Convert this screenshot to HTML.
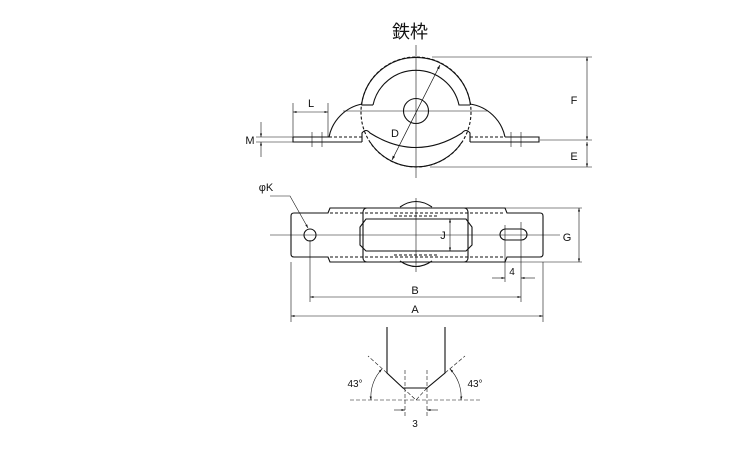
<!DOCTYPE html>
<html><head><style>body{margin:0;background:#fff}svg{display:block}text{font-family:"Liberation Sans","Noto Sans CJK JP",sans-serif;fill:#111}</style></head><body>
<svg width="750" height="450" viewBox="0 0 750 450" xmlns="http://www.w3.org/2000/svg">
<defs><marker id="a" viewBox="0 0 10 10" refX="10" refY="5" markerWidth="6" markerHeight="6" orient="auto-start-reverse"><path d="M0,2 L10,5 L0,8z" fill="#111"/></marker></defs>
<text x="410" y="38" font-size="18" text-anchor="middle">鉄枠</text>
<g stroke="#111" fill="none" stroke-width="1.1">
<!-- top view -->
<line x1="416" y1="45" x2="416" y2="178" stroke-width="0.6"/>
<line x1="343" y1="111" x2="488" y2="111" stroke-width="0.6"/>
<circle cx="416" cy="112" r="55" stroke-dasharray="3,2"/>
<path d="M361.5,105 A55,55 0 0 1 470.5,105"/>
<path d="M370,142 A55,55 0 0 0 462,142"/>
<circle cx="416" cy="111" r="12.5"/>
<path d="M373,105 A44,44 0 0 1 459,105 L470,105"/>
<path d="M361.5,105 L373,105"/>
<path d="M329,137 A42,42 0 0 1 362,104"/>
<path d="M505,137 A42,42 0 0 0 470,104"/>
<path d="M362,142 L362,133 Q366,128 370,133 Q416,162 462,133 Q466,128 470,133 L470,142"/>
<path d="M293,137 L329,137 M505,137 L539,137 L539,142 L470,142 M293,137 L293,142 L362,142" />
<path d="M329,137 L362,137 M470,137 L505,137" stroke-dasharray="3,2"/>
<path d="M312,132 L312,147 M322,132 L322,147 M511,132 L511,147 M521,132 L521,147" stroke-width="0.6"/>
<line x1="440" y1="65" x2="392" y2="160" stroke-width="0.7" marker-start="url(#a)" marker-end="url(#a)"/>
<g stroke-width="0.6">
<path d="M293,103 L293,137 M328,103 L328,137"/>
<line x1="293" y1="112" x2="328" y2="112" marker-start="url(#a)" marker-end="url(#a)"/>
<path d="M256,137 L293,137 M256,142 L293,142"/>
<line x1="261" y1="122" x2="261" y2="137" marker-end="url(#a)"/>
<line x1="261" y1="157" x2="261" y2="142" marker-end="url(#a)"/>
<path d="M432,57 L592,57 M540,140 L592,140 M430,167 L592,167"/>
<line x1="587" y1="57" x2="587" y2="140" marker-start="url(#a)" marker-end="url(#a)"/>
<line x1="587" y1="142" x2="587" y2="167" marker-start="url(#a)" marker-end="url(#a)"/>
</g>
<!-- plan view -->
<line x1="270" y1="235" x2="560" y2="235" stroke-width="0.6"/>
<line x1="416" y1="198" x2="416" y2="272" stroke-width="0.6"/>
<path d="M400,207 Q416,196 432,207 M400,261 Q416,272 432,261"/>
<path d="M328,213 L294,213 Q291,213 291,216 L291,254 Q291,257 294,257 L328,257 L330,262 L505,262 L507,257 L540,257 Q543,257 543,254 L543,216 Q543,213 540,213 L507,213 L505,208 L330,208 Z"/>
<path d="M330,213 L505,213 M330,257 L505,257" stroke-dasharray="3,2"/>
<rect x="363" y="208" width="105" height="54" rx="4"/>
<path d="M366,219 L466,219 L472,227 L472,245 L466,251 L366,251 L360,245 L360,227 Z"/>
<path d="M394,216 L438,216 M394,255 L438,255" stroke-dasharray="3,2"/>
<circle cx="310" cy="235" r="6"/>
<rect x="500" y="229" width="27" height="11" rx="5.5"/>
<g stroke-width="0.6">
<line x1="450" y1="219" x2="450" y2="251" marker-start="url(#a)" marker-end="url(#a)"/>
<path d="M291,262 L291,322 M310,240 L310,302 M521,222 L521,302 M543,262 L543,322 M505,225 L505,282 M470,208 L582,208 M470,262 L582,262"/>
<line x1="579" y1="208" x2="579" y2="262" marker-start="url(#a)" marker-end="url(#a)"/>
<line x1="492" y1="278" x2="505" y2="278" marker-end="url(#a)"/>
<line x1="535" y1="278" x2="521" y2="278" marker-end="url(#a)"/>
<line x1="310" y1="297" x2="521" y2="297" marker-start="url(#a)" marker-end="url(#a)"/>
<line x1="291" y1="316" x2="543" y2="316" marker-start="url(#a)" marker-end="url(#a)"/>
<path d="M270,196 L290,196 L308,228" marker-end="url(#a)"/>
</g>
<!-- detail -->
<path d="M387,327 L387,373 L403,388 L427,388 L445,373 L445,327"/>
<g stroke-width="0.6" stroke-dasharray="4,2">
<path d="M350,400 L482,400 M405,370 L405,418 M427,370 L427,418 M403,388 L416,400 L427,388 M387,373 L368,356 M445,373 L465,356"/>
</g>
<g stroke-width="0.6">
<path d="M371,400 A40,40 0 0 1 382,369" marker-start="url(#a)" marker-end="url(#a)"/>
<path d="M461,400 A40,40 0 0 0 450,369" marker-start="url(#a)" marker-end="url(#a)"/>
<line x1="394" y1="410" x2="405" y2="410" marker-end="url(#a)"/>
<line x1="438" y1="410" x2="427" y2="410" marker-end="url(#a)"/>
</g>
</g>
<g font-size="11">
<text x="311" y="107" text-anchor="middle">L</text>
<text x="250" y="144" text-anchor="middle">M</text>
<text x="395" y="137" text-anchor="middle">D</text>
<text x="574" y="104" text-anchor="middle">F</text>
<text x="574" y="160" text-anchor="middle">E</text>
<text x="266" y="191" text-anchor="middle">φK</text>
<text x="443" y="239" text-anchor="middle">J</text>
<text x="567" y="241" text-anchor="middle">G</text>
<text x="512" y="275" text-anchor="middle" font-size="10">4</text>
<text x="415" y="294" text-anchor="middle">B</text>
<text x="415" y="313" text-anchor="middle">A</text>
<text x="355" y="387" text-anchor="middle" font-size="10">43°</text>
<text x="475" y="387" text-anchor="middle" font-size="10">43°</text>
<text x="415" y="427" text-anchor="middle" font-size="10">3</text>
</g>
</svg>
</body></html>
